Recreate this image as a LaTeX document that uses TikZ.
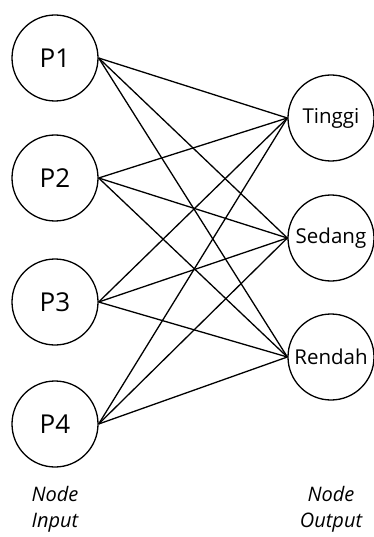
\documentclass[tikz,border=0pt]{standalone}
\usepackage{fontspec}
\setmainfont{Open Sans}
\begin{document}
\begin{tikzpicture}[x=1pt,y=-1pt,
  neuron/.style={draw,circle,minimum size=86pt,inner sep=0pt,line width=1.3pt},
  inlbl/.style={font=\fontsize{26}{28}\selectfont},
  outlbl/.style={font=\fontsize{20.5}{22}\selectfont},
  captxt/.style={font=\itshape\fontsize{20}{26}\selectfont,align=center},
  link/.style={line width=1.3pt}]
\useasboundingbox (0,0) rectangle (374,537);
\node[neuron,inlbl] (p1) at (55,58) {P1};
\node[neuron,inlbl] (p2) at (55,178) {P2};
\node[neuron,inlbl] (p3) at (55,302) {P3};
\node[neuron,inlbl] (p4) at (55,424) {P4};
\node[neuron,outlbl] (t) at (331,118) {Tinggi};
\node[neuron,outlbl] (s) at (331,238) {Sedang};
\node[neuron,outlbl] (r) at (331,357) {Rendah};
\foreach \a in {p1,p2,p3,p4}
  \foreach \b in {t,s,r}
    \draw[link] (\a.east) -- (\b.west);
\node[captxt] (ci) at (55,509) {Node\\Input};
\node[captxt] (co) at (331,509) {Node\\Output};
\end{tikzpicture}
\end{document}
